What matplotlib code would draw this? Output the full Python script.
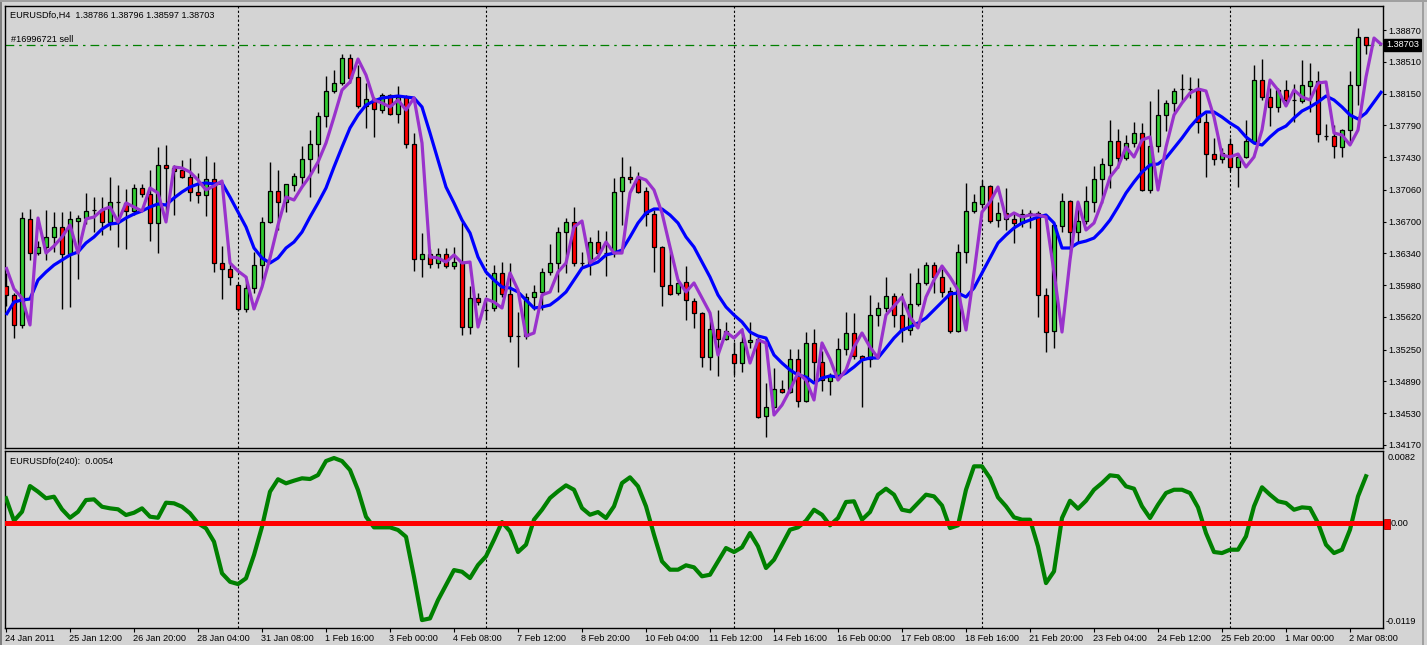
import matplotlib.pyplot as plt
import matplotlib.transforms as mtransforms
from matplotlib.patches import Rectangle
import numpy as np

plt.rcParams['font.family'] = ['Liberation Sans', 'DejaVu Sans']

W, H = 1427, 645
BG = '#D4D4D4'
FS = 6.6

# EURUSDfo H4 candles, 24 Jan 2011 .. 2 Mar 2011
opens = [1.35970, 1.35868, 1.35528, 1.36729, 1.36343, 1.36411, 1.36525, 1.36638, 1.36332, 1.36706,
         1.36740, 1.36831, 1.36831, 1.36695, 1.36921, 1.36910, 1.36819, 1.37080, 1.37012, 1.36683,
         1.37340, 1.37306, 1.37284, 1.37204, 1.37035, 1.37001, 1.37182, 1.36230, 1.36162, 1.35981,
         1.35709, 1.35947, 1.36207, 1.36695, 1.37046, 1.36921, 1.37114, 1.37204, 1.37408, 1.37578,
         1.37896, 1.38179, 1.38270, 1.38553, 1.38337, 1.38009, 1.38088, 1.37964, 1.38134, 1.37918,
         1.38111, 1.37578, 1.36275, 1.36332, 1.36230, 1.36332, 1.36196, 1.36241, 1.35505, 1.35834,
         1.35698, 1.35720, 1.36117, 1.35879, 1.35403, 1.35403, 1.35845, 1.35902, 1.36128, 1.36230,
         1.36581, 1.36695, 1.36230, 1.36230, 1.36468, 1.36343, 1.36343, 1.37046, 1.37204, 1.37182,
         1.37046, 1.36785, 1.36411, 1.35981, 1.35890, 1.36015, 1.35800, 1.35664, 1.35165, 1.35482,
         1.35369, 1.35199, 1.35097, 1.35335, 1.35369, 1.34497, 1.34599, 1.34803, 1.34769, 1.35142,
         1.34667, 1.35324, 1.35108, 1.34893, 1.34961, 1.35256, 1.35437, 1.35176, 1.35142, 1.35641,
         1.35720, 1.35856, 1.35641, 1.35471, 1.35766, 1.36004, 1.36207, 1.36071, 1.35913, 1.35460,
         1.36355, 1.36819, 1.36899, 1.37103, 1.36717, 1.36797, 1.36729, 1.36683, 1.36797, 1.36797,
         1.35868, 1.35460, 1.36649, 1.36933, 1.36581, 1.36706, 1.36921, 1.37182, 1.37340, 1.37612,
         1.37420, 1.37590, 1.37703, 1.37057, 1.37556, 1.37907, 1.38043, 1.38202, 1.38202, 1.38190,
         1.37828, 1.37465, 1.37408, 1.37578, 1.37318, 1.37431, 1.37601, 1.38303, 1.38111, 1.37998,
         1.38190, 1.38077, 1.38066, 1.38236, 1.38292, 1.37669, 1.37669, 1.37544, 1.37737, 1.38247,
         1.38786]
highs = [1.36117, 1.35890, 1.36808, 1.36842, 1.36479, 1.36831, 1.36808, 1.36808, 1.36819, 1.36774,
         1.37023, 1.36978, 1.36978, 1.37204, 1.37114, 1.37069, 1.37125, 1.37125, 1.37284, 1.37544,
         1.37567, 1.37340, 1.37397, 1.37420, 1.37250, 1.37442, 1.37374, 1.36423, 1.36230, 1.36004,
         1.36083, 1.36355, 1.36751, 1.37374, 1.37284, 1.37130, 1.37250, 1.37556, 1.37737, 1.37941,
         1.38349, 1.38417, 1.38598, 1.38598, 1.38473, 1.38270, 1.38111, 1.38156, 1.38145, 1.38236,
         1.38134, 1.37703, 1.36570, 1.36389, 1.36400, 1.36400, 1.36411, 1.36695, 1.35970, 1.35890,
         1.35811, 1.36207, 1.36241, 1.36230, 1.35675, 1.35890, 1.35981, 1.36173, 1.36445, 1.36638,
         1.36740, 1.36865, 1.36355, 1.36525, 1.36604, 1.36593, 1.37193, 1.37431, 1.37329, 1.37261,
         1.37091, 1.36831, 1.36423, 1.36366, 1.36049, 1.36196, 1.35834, 1.35675, 1.35641, 1.35698,
         1.35562, 1.35335, 1.35494, 1.35562, 1.35392, 1.34870, 1.35040, 1.34904, 1.35256, 1.35256,
         1.35448, 1.35482, 1.35233, 1.34984, 1.35380, 1.35675, 1.35664, 1.35188, 1.35868, 1.35788,
         1.36071, 1.35890, 1.35890, 1.36117, 1.36173, 1.36241, 1.36241, 1.36162, 1.35958, 1.36445,
         1.37137, 1.37012, 1.37170, 1.37114, 1.36921, 1.37080, 1.36797, 1.36842, 1.36831, 1.36819,
         1.35947, 1.36672, 1.37023, 1.36944, 1.36842, 1.37103, 1.37329, 1.37420, 1.37850, 1.37748,
         1.37680, 1.37828, 1.37816, 1.38066, 1.38202, 1.38077, 1.38213, 1.38371, 1.38337, 1.38326,
         1.37930, 1.37646, 1.37533, 1.37646, 1.37476, 1.37850, 1.38473, 1.38541, 1.38213, 1.38213,
         1.38303, 1.38258, 1.38530, 1.38496, 1.38405, 1.37805, 1.37794, 1.37748, 1.38405, 1.38893,
         1.38796]
lows = [1.35743, 1.35380, 1.35494, 1.36264, 1.36321, 1.36264, 1.36355, 1.35709, 1.35732, 1.36049,
        1.36672, 1.36581, 1.36547, 1.36604, 1.36411, 1.36389, 1.36774, 1.36978, 1.36479, 1.36343,
        1.36774, 1.36774, 1.37193, 1.36933, 1.36910, 1.36763, 1.36128, 1.35822, 1.35981, 1.35686,
        1.35675, 1.35890, 1.35981, 1.36683, 1.36604, 1.36808, 1.37046, 1.37114, 1.36978, 1.37250,
        1.37771, 1.38156, 1.38247, 1.38270, 1.37986, 1.37760, 1.37658, 1.37930, 1.37907, 1.37816,
        1.37533, 1.36139, 1.36071, 1.36173, 1.36173, 1.36173, 1.36162, 1.35414, 1.35426, 1.35754,
        1.35584, 1.35686, 1.35845, 1.35335, 1.35052, 1.35369, 1.35698, 1.35698, 1.36094, 1.35902,
        1.36117, 1.36196, 1.36185, 1.36094, 1.36287, 1.36083, 1.36298, 1.36661, 1.37137, 1.37023,
        1.36649, 1.36128, 1.35743, 1.35868, 1.35868, 1.35584, 1.35494, 1.35052, 1.35018, 1.34950,
        1.35358, 1.34961, 1.34995, 1.35267, 1.34474, 1.34259, 1.34587, 1.34757, 1.34757, 1.34599,
        1.34655, 1.34870, 1.34780, 1.34735, 1.34916, 1.35188, 1.35142, 1.34599, 1.35052, 1.35516,
        1.35675, 1.35505, 1.35335, 1.35414, 1.35743, 1.35981, 1.35890, 1.35845, 1.35437, 1.35448,
        1.36230, 1.36797, 1.36865, 1.36683, 1.36638, 1.36604, 1.36457, 1.36638, 1.36627, 1.35618,
        1.35222, 1.35267, 1.36581, 1.36343, 1.36457, 1.36672, 1.36808, 1.36910, 1.37080, 1.37306,
        1.37397, 1.37544, 1.37046, 1.37023, 1.37488, 1.37726, 1.37941, 1.38054, 1.38100, 1.37703,
        1.37204, 1.37340, 1.37363, 1.37272, 1.37091, 1.37420, 1.37578, 1.38077, 1.37782, 1.37941,
        1.38043, 1.37828, 1.38043, 1.37941, 1.37601, 1.37624, 1.37420, 1.37431, 1.37601, 1.38020,
        1.38597]
closes = [1.35868, 1.35528, 1.36740, 1.36343, 1.36411, 1.36525, 1.36638, 1.36332, 1.36729, 1.36740,
          1.36819, 1.36831, 1.36695, 1.36921, 1.36921, 1.36819, 1.37080, 1.37012, 1.36683, 1.37340,
          1.37306, 1.37272, 1.37204, 1.37035, 1.37001, 1.37182, 1.36230, 1.36162, 1.36071, 1.35709,
          1.35947, 1.36207, 1.36695, 1.37046, 1.36921, 1.37125, 1.37216, 1.37408, 1.37578, 1.37896,
          1.38179, 1.38270, 1.38553, 1.38326, 1.38009, 1.38088, 1.37975, 1.38134, 1.37918, 1.38111,
          1.37578, 1.36275, 1.36332, 1.36219, 1.36332, 1.36196, 1.36241, 1.35505, 1.35834, 1.35788,
          1.35698, 1.36117, 1.35879, 1.35403, 1.35403, 1.35845, 1.35902, 1.36128, 1.36230, 1.36581,
          1.36695, 1.36230, 1.36230, 1.36468, 1.36343, 1.36343, 1.37035, 1.37204, 1.37182, 1.37035,
          1.36785, 1.36411, 1.35970, 1.35879, 1.36004, 1.35811, 1.35664, 1.35165, 1.35482, 1.35369,
          1.35460, 1.35097, 1.35335, 1.35358, 1.34485, 1.34599, 1.34803, 1.34769, 1.35142, 1.34667,
          1.35324, 1.35108, 1.34904, 1.34961, 1.35256, 1.35437, 1.35176, 1.35142, 1.35641, 1.35720,
          1.35856, 1.35641, 1.35471, 1.35766, 1.36004, 1.36207, 1.36071, 1.35902, 1.35460, 1.36355,
          1.36819, 1.36921, 1.37103, 1.36706, 1.36797, 1.36729, 1.36683, 1.36785, 1.36797, 1.35868,
          1.35448, 1.36661, 1.36933, 1.36581, 1.36706, 1.36933, 1.37182, 1.37352, 1.37612, 1.37420,
          1.37590, 1.37703, 1.37057, 1.37556, 1.37907, 1.38043, 1.38179, 1.38202, 1.38202, 1.37828,
          1.37465, 1.37408, 1.37476, 1.37318, 1.37431, 1.37612, 1.38303, 1.38111, 1.37998, 1.38190,
          1.38077, 1.38077, 1.38247, 1.38292, 1.37692, 1.37669, 1.37556, 1.37737, 1.38247, 1.38786,
          1.38703]

# moving averages as drawn (shifted two bars to the right)
ma_fast = [1.36185, 1.35936, 1.35834, 1.35528, 1.36740, 1.36343, 1.36423, 1.36525, 1.36661, 1.36343,
           1.36729, 1.36751, 1.36831, 1.36865, 1.36695, 1.36910, 1.36865, 1.36819, 1.37080, 1.37023,
           1.36695, 1.37318, 1.37306, 1.37261, 1.37170, 1.37057, 1.37103, 1.37159, 1.36230, 1.36139,
           1.36071, 1.35709, 1.35958, 1.36287, 1.36661, 1.36978, 1.36944, 1.37091, 1.37216, 1.37374,
           1.37590, 1.37884, 1.38190, 1.38281, 1.38541, 1.38360, 1.38077, 1.38043, 1.37998, 1.38077,
           1.37964, 1.38100, 1.37590, 1.36298, 1.36287, 1.36241, 1.36321, 1.36230, 1.36241, 1.35505,
           1.35822, 1.35788, 1.35720, 1.36117, 1.35924, 1.35403, 1.35437, 1.35868, 1.35902, 1.36128,
           1.36230, 1.36638, 1.36706, 1.36230, 1.36298, 1.36468, 1.36343, 1.36343, 1.37023, 1.37204,
           1.37170, 1.37057, 1.36797, 1.36411, 1.36037, 1.35902, 1.36004, 1.35834, 1.35664, 1.35188,
           1.35448, 1.35380, 1.35471, 1.35097, 1.35358, 1.35324, 1.34508, 1.34621, 1.34791, 1.34984,
           1.34904, 1.34678, 1.35324, 1.35142, 1.34904, 1.35018, 1.35278, 1.35437, 1.35278, 1.35154,
           1.35641, 1.35743, 1.35845, 1.35618, 1.35494, 1.35845, 1.36037, 1.36196, 1.36071, 1.35924,
           1.35471, 1.36117, 1.36808, 1.36921, 1.37091, 1.36740, 1.36797, 1.36751, 1.36774, 1.36774,
           1.36751, 1.36128, 1.35448, 1.36264, 1.36921, 1.36604, 1.36683, 1.36921, 1.37204, 1.37318,
           1.37544, 1.37431, 1.37624, 1.37658, 1.37057, 1.37544, 1.37907, 1.38043, 1.38156, 1.38202,
           1.38179, 1.37884, 1.37454, 1.37431, 1.37465, 1.37318, 1.37431, 1.37737, 1.38303, 1.38190,
           1.38009, 1.38190, 1.38111, 1.38077, 1.38270, 1.38281, 1.37703, 1.37680, 1.37567, 1.37737,
           1.38337, 1.38779, 1.38700]
ma_slow = [1.35641, 1.35788, 1.35811, 1.35822, 1.36037, 1.36128, 1.36207, 1.36264, 1.36321, 1.36355,
           1.36457, 1.36525, 1.36615, 1.36672, 1.36683, 1.36740, 1.36785, 1.36819, 1.36865, 1.36899,
           1.36887, 1.36967, 1.37035, 1.37091, 1.37125, 1.37137, 1.37125, 1.37137, 1.36978, 1.36808,
           1.36638, 1.36400, 1.36287, 1.36230, 1.36287, 1.36400, 1.36468, 1.36581, 1.36751, 1.36910,
           1.37080, 1.37318, 1.37544, 1.37760, 1.37907, 1.38020, 1.38066, 1.38100, 1.38111, 1.38122,
           1.38111, 1.38100, 1.37998, 1.37703, 1.37397, 1.37091, 1.36910, 1.36717, 1.36570, 1.36298,
           1.36128, 1.36037, 1.35958, 1.35947, 1.35902, 1.35811, 1.35720, 1.35732, 1.35754, 1.35822,
           1.35902, 1.36037, 1.36173, 1.36207, 1.36241, 1.36321, 1.36343, 1.36377, 1.36525, 1.36683,
           1.36797, 1.36842, 1.36842, 1.36774, 1.36683, 1.36525, 1.36411, 1.36241, 1.36071, 1.35868,
           1.35732, 1.35641, 1.35562, 1.35448, 1.35403, 1.35380, 1.35188, 1.35097, 1.35018, 1.34961,
           1.34938, 1.34870, 1.34927, 1.34950, 1.34938, 1.34984, 1.35052, 1.35131, 1.35154, 1.35154,
           1.35267, 1.35380, 1.35471, 1.35505, 1.35550, 1.35607, 1.35698, 1.35788, 1.35879, 1.35890,
           1.35845, 1.35947, 1.36117, 1.36287, 1.36457, 1.36547, 1.36627, 1.36683, 1.36717, 1.36751,
           1.36774, 1.36683, 1.36400, 1.36400, 1.36457, 1.36479, 1.36513, 1.36604, 1.36717, 1.36865,
           1.37023, 1.37148, 1.37261, 1.37340, 1.37352, 1.37420, 1.37533, 1.37646, 1.37771, 1.37873,
           1.37941, 1.37941, 1.37884, 1.37816, 1.37760, 1.37658, 1.37590, 1.37567, 1.37658, 1.37737,
           1.37782, 1.37873, 1.37952, 1.37998, 1.38054, 1.38122, 1.38077, 1.37998, 1.37907, 1.37862,
           1.37930, 1.38054, 1.38179]

# EURUSDfo(240) oscillator, in units of 0.0001
osc_pts = [28.3, 2.8, 13.0, 42.2, 35.8, 28.3, 30.1, 15.8, 6.2, 13.0,
           26.3, 27.1, 18.7, 16.9, 15.8, 9.3, 11.9, 16.9, 7.4, 6.2,
           23.3, 22.6, 18.7, 11.2, -0.1, -5.8, -21.0, -56.9, -66.5, -69.1,
           -62.6, -36.1, -4.0, 35.8, 49.9, 45.3, 48.3, 51.0, 50.2, 54.7,
           70.6, 74.0, 70.6, 60.4, 37.7, 7.4, -4.7, -4.7, -4.7, -7.7,
           -15.4, -60.8, -110.0, -108.1, -87.3, -70.2, -53.2, -55.1, -62.3, -47.5,
           -37.6, -18.8, 1.3, -9.2, -32.7, -24.4, 4.0, 15.3, 28.6, 36.2,
           43.0, 38.0, 17.2, 9.6, 12.7, 5.9, 19.2, 45.6, 52.1, 41.9,
           19.2, -13.1, -43.3, -52.8, -52.8, -47.8, -50.1, -60.3, -58.5, -43.3,
           -28.2, -32.7, -27.4, -11.2, -26.3, -50.9, -41.5, -24.4, -7.4, -4.7,
           2.8, 15.3, 9.6, -2.4, 5.9, 24.1, 24.9, 4.0, 12.7, 32.4,
           39.2, 32.4, 15.3, 13.5, 22.9, 32.4, 30.5, 20.1, -5.5, -2.4,
           38.0, 64.6, 64.6, 51.3, 29.4, 19.2, 6.7, 4.0, 4.0, -26.3,
           -68.0, -54.7, 5.9, 25.5, 16.5, 25.5, 38.0, 45.6, 54.4, 53.3,
           41.9, 39.2, 19.2, 5.9, 21.0, 34.3, 38.0, 38.0, 34.3, 18.0,
           -11.2, -32.7, -33.9, -30.1, -30.1, -14.9, 19.2, 40.8, 32.4, 24.9,
           22.9, 15.3, 18.0, 17.2, 0.2, -24.4, -33.9, -30.1, -7.4, 30.5,
           53.3]

price_ticks = [1.38870, 1.38510, 1.38150, 1.37790, 1.37430, 1.37060, 1.36700,
               1.36340, 1.35980, 1.35620, 1.35250, 1.34890, 1.34530, 1.34170]
date_labels = ['24 Jan 2011', '25 Jan 12:00', '26 Jan 20:00', '28 Jan 04:00', '31 Jan 08:00',
               '1 Feb 16:00', '3 Feb 00:00', '4 Feb 08:00', '7 Feb 12:00', '8 Feb 20:00',
               '10 Feb 04:00', '11 Feb 12:00', '14 Feb 16:00', '16 Feb 00:00', '17 Feb 08:00',
               '18 Feb 16:00', '21 Feb 20:00', '23 Feb 04:00', '24 Feb 12:00', '25 Feb 20:00',
               '1 Mar 00:00', '2 Mar 08:00']
date_bars = [8 * k for k in range(len(date_labels))]
grid_bars = [29, 60, 91, 122, 153]
order_price = 1.38703

o = np.array(opens)
c = np.array(closes)
x = np.arange(len(o))
osc = np.array(osc_pts) * 1e-4

fig = plt.figure(figsize=(W / 100, H / 100), dpi=100, facecolor=BG)
ax = fig.add_axes([5 / W, 1 - 448 / H, 1378 / W, 442 / H], facecolor=BG)
ax2 = fig.add_axes([5 / W, 1 - 628 / H, 1378 / W, 177 / H], facecolor=BG)

# candles
ax.vlines(x, lows, highs, color='black', lw=1, zorder=2)
colors = np.where(c > o, '#32CD32', '#FF0000')
ax.bar(x, np.abs(c - o), bottom=np.minimum(o, c), width=0.62, color=colors,
       edgecolor='black', linewidth=0.9, zorder=3)

xm = np.arange(len(ma_fast))
ax.plot(xm, ma_slow, color='#0000FF', lw=2.3, zorder=4, solid_capstyle='butt')
ax.plot(xm, ma_fast, color='#9932CC', lw=2.3, zorder=5, solid_capstyle='butt')

ax.axhline(order_price, color='#008000', lw=0.9, ls=(0, (7, 4, 2, 4)), zorder=1)
for b in grid_bars:
    ax.axvline(b, color='black', lw=0.8, ls=(0, (2, 2)), zorder=1)
    ax2.axvline(b, color='black', lw=0.8, ls=(0, (2, 2)), zorder=1)

ax.set_xlim(-0.125, 172.125)
ax.set_ylim(1.34134, 1.39142)
ax.set_xticks([])
ax.yaxis.tick_right()
ax.set_yticks(price_ticks)
ax.set_yticklabels(['%.5f' % p for p in price_ticks])
ax.tick_params(axis='y', length=2.5, width=0.8, pad=1.2, labelsize=FS)

trp = mtransforms.blended_transform_factory(ax.transAxes, ax.transData)
ax.text(1.0022, order_price, '1.38703', transform=trp, color='white', fontsize=FS,
        va='center', ha='left', zorder=10,
        bbox=dict(facecolor='black', edgecolor='black', boxstyle='square,pad=0.18'))

# oscillator panel
ax2.plot(x, osc, color='#008000', lw=3.0, zorder=4)
ax2.axhline(0, color='#FF0000', lw=3.6, zorder=5)
ax2.set_xlim(-0.125, 172.125)
ax2.set_ylim(-0.0119, 0.0082)
ax2.set_yticks([])
ax2.set_xticks(date_bars)
ax2.tick_params(axis='x', length=3, width=0.8, labelbottom=False)
trx = mtransforms.blended_transform_factory(ax2.transData, ax2.transAxes)
for b, lab in zip(date_bars, date_labels):
    ax2.text(b - 0.1, -0.058, lab, transform=trx, fontsize=FS, ha='left', va='center')

for a in (ax, ax2):
    for s in a.spines.values():
        s.set_linewidth(1.0)
        s.set_color('black')

fig.text(1388 / W, 1 - 457 / H, '0.0082', fontsize=FS, va='center', ha='left')
fig.text(1386 / W, 1 - 622 / H, '-0.0119', fontsize=FS, va='center', ha='left')
fig.patches.append(Rectangle((1384 / W, 1 - 529 / H), 6 / W, 10 / H, transform=fig.transFigure,
                             facecolor='#FF0000', edgecolor='#B00000', lw=0.6))
fig.text(1391 / W, 1 - 524 / H, '0.00', fontsize=FS, va='center', ha='left')

# header texts
fig.text(10 / W, 1 - 15 / H, 'EURUSDfo,H4  1.38786 1.38796 1.38597 1.38703', fontsize=FS,
         va='center', ha='left')
fig.text(11 / W, 1 - 39 / H, '#16996721 sell', fontsize=FS, va='center', ha='left')
fig.text(10 / W, 1 - 461 / H, 'EURUSDfo(240):  0.0054', fontsize=FS, va='center', ha='left')

# window borders
fig.patches.append(Rectangle((0, 0), 2 / W, 1, transform=fig.transFigure,
                             facecolor='#808080', edgecolor='none'))
fig.patches.append(Rectangle((0, 1 - 2 / H), 1, 2 / H, transform=fig.transFigure,
                             facecolor='#A0A0A0', edgecolor='none'))
fig.patches.append(Rectangle((1422 / W, 0), 2 / W, 1, transform=fig.transFigure,
                             facecolor='#A0A0A0', edgecolor='none'))

fig.savefig('out.png', dpi=100, facecolor=BG)
